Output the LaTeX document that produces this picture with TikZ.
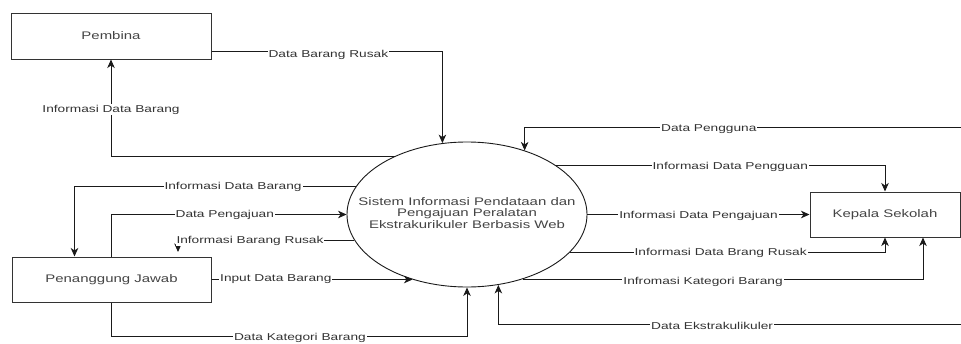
\documentclass[tikz,border=0pt]{standalone}
\usepackage{fontspec}
\setmainfont{Liberation Sans}
\newfontfamily\lblfont[FakeStretch=1.37]{Liberation Sans}
\newfontfamily\boxfont[FakeStretch=1.36]{Liberation Sans}
\usetikzlibrary{arrows.meta,shapes.geometric}
\definecolor{linec}{HTML}{1A1A1A}
\definecolor{boxc}{HTML}{333333}
\definecolor{textc}{HTML}{333333}
\definecolor{boxtextc}{HTML}{444444}
\tikzset{
  entity/.style={draw=boxc, line width=1pt, rectangle, inner sep=0pt,
    font=\boxfont\fontsize{11}{11.5}\selectfont, text=boxtextc},
  proc/.style={draw=linec, line width=0.9pt, ellipse, inner sep=0pt,
    minimum width=240pt, minimum height=145pt,
    font=\boxfont\fontsize{11}{11.5}\selectfont, text=boxtextc},
  flow/.style={draw=linec, line width=0.9pt, -{Stealth[length=8.5pt,width=7.5pt,inset=2.5pt]}},
  lbl/.style={fill=white, inner sep=1pt, font=\lblfont\fontsize{10}{12}\selectfont, text=textc}
}
\begin{document}
\begin{tikzpicture}[x=1pt,y=-1pt]
\useasboundingbox (0,0) rectangle (961,343);
\fill[white] (0,0) rectangle (961,343);

% entities
\node[entity, minimum width=200pt, minimum height=46pt] (pembina) at (111,36) {Pembina};
\node[entity, minimum width=199pt, minimum height=45pt] (pj) at (111.5,279.5) {Penanggung Jawab};
\node[entity, minimum width=150pt, minimum height=45pt] (kepala) at (885,214.5) {Kepala Sekolah};
\node[proc] (sys) at (467,214.5) {\raisebox{-2pt}{\makebox[0pt][c]{\begin{tabular}{@{}c@{}}Sistem Informasi Pendataan dan\\Pengajuan Peralatan\\Ekstrakurikuler Berbasis Web\end{tabular}}}};

% free ends
\coordinate (pgin) at (961,127.5);
\coordinate (ekin) at (961,324.5);
\coordinate (ibr) at (178,252);

% Pembina
\draw[flow] ([yshift=-15.5pt]pembina.east) -| (sys.109.4)
  node[lbl, pos=0.253, yshift=-3pt] (l1) {Data Barang Rusak};
\draw[flow] (sys.141.8) -| (pembina.south)
  node[lbl, pos=0.74] (l2) {Informasi Data Barang};

% Kepala Sekolah
\draw[flow] (pgin) -| (sys.48.8)
  node[lbl, pos=0.289, yshift=-1.5pt] (l3) {Data Pengguna};
\draw[flow] (sys.29.4) -| (kepala.north)
  node[lbl, pos=0.265, yshift=-2pt] (l4) {Informasi Data Pengguan};
\draw[flow] (sys.east) -- (kepala.west)
  node[lbl, pos=0.5, yshift=-1.5pt] (l5) {Informasi Data Pengajuan};
\draw[flow] (sys.-20.7) -| (kepala.south)
  node[lbl, pos=0.239, yshift=-1pt] (l6) {Informasi Data Brang Rusak};
\draw[flow] (sys.-49.6) -| ([xshift=38pt]kepala.south)
  node[lbl, pos=0.225, yshift=-2.5pt] (l7) {Infromasi Kategori Barang};
\draw[flow] (ekin) -| (sys.-66.1)
  node[lbl, pos=0.269, yshift=-1.5pt] (l8) {Data Ekstrakulikuler};

% Penanggung Jawab
\draw[flow] (sys.166.65) -| ([xshift=-37pt]pj.north)
  node[lbl, pos=0.218] (l9) {Informasi Data Barang};
\draw[flow] (pj.north) |- (sys.west)
  node[lbl, pos=0.741, yshift=-0.5pt] (l10) {Data Pengajuan};
\draw[flow] (sys.193.35) -| (ibr)
  node[lbl, pos=0.296] (l11) {Informasi Barang Rusak};
\draw[flow] (pj.east) -- (sys.230.7)
  node[lbl, pos=0.32] (l12) {Input Data Barang};
\draw[flow] (pj.south) -- ++(0,33.5) -| (sys.south)
  node[lbl, pos=0.265, yshift=-1.5pt] (l13) {Data Kategori Barang};
\end{tikzpicture}
\end{document}
